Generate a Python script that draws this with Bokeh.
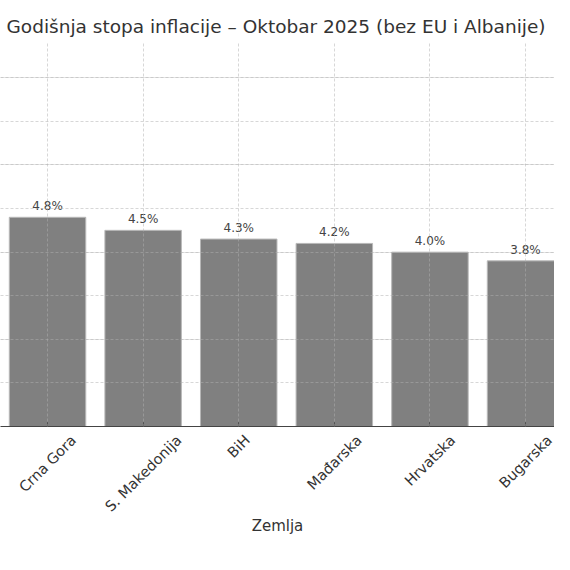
import numpy as np
from bokeh.plotting import figure
from bokeh.models import Range1d, FixedTicker, ColumnDataSource, Grid
from bokeh.core.properties import value
from bokeh.embed import file_html
from bokeh.resources import INLINE

countries = ["Crna Gora", "S. Makedonija", "BiH", "Mađarska", "Hrvatska", "Bugarska"]
inflation = [4.8, 4.5, 4.3, 4.2, 4.0, 3.8]
y_ticks = [0, 1, 2, 3, 4, 5, 6, 7, 8]
title_text = "Godišnja stopa inflacije – Oktobar 2025 (bez EU i Albanije)"
x_label = "Zemlja"

FONT = "DejaVu Sans"
TICK_FS = 14.5

# DejaVu Sans advance widths (em) used to centre the rotated tick labels
EM = {"C": .698, "r": .411, "n": .634, "a": .613, " ": .318, "G": .775, "o": .612,
      "S": .635, ".": .318, "M": .863, "k": .579, "e": .615, "d": .635, "i": .278,
      "j": .278, "B": .686, "H": .752, "đ": .635, "s": .521, "v": .592, "t": .392,
      "u": .634, "g": .635}


def text_len(s, fs):
    return sum(EM.get(ch, 0.6) for ch in s) * fs


c45 = np.cos(np.pi / 4)
xs = list(range(len(countries)))
labels = [f"{v:.1f}%" for v in inflation]
src = ColumnDataSource(dict(x=xs, v=inflation, lbl=labels))

tick_src = ColumnDataSource(dict(
    x=xs, y=[0] * len(xs), name=countries,
    xo=[text_len(c, TICK_FS) * c45 / 2 for c in countries],
))

p = figure(width=554, height=552,
           x_range=Range1d(-0.492, 5.303), y_range=Range1d(0, 8.81),
           output_backend="svg", toolbar_location=None, y_axis_location=None,
           min_border_left=0, min_border_right=0,
           min_border_top=42, min_border_bottom=126)
p.outline_line_color = None
p.background_fill_color = "white"

p.vbar(x="x", top="v", width=0.8, source=src,
       fill_color="#808080", line_color="#b8b8b8", line_width=1)

p.text(x="x", y="v", text="lbl", source=src, text_align="center",
       text_baseline="bottom", y_offset=-4, text_font_size="12px",
       text_color="#444444", text_font=value(FONT))

# grids (drawn above the bars, like matplotlib)
p.xgrid.ticker = FixedTicker(ticks=xs)
p.xgrid.grid_line_color = "#b0b0b0"
p.xgrid.grid_line_alpha = 0.5
p.xgrid.grid_line_dash = "3 2"
p.xgrid.level = "guide"
yg = Grid(dimension=1, ticker=FixedTicker(ticks=y_ticks),
          grid_line_color="#b0b0b0", grid_line_alpha=0.5,
          grid_line_dash="3 2", level="guide")
p.add_layout(yg)

ax = p.xaxis[0]
ax.ticker = FixedTicker(ticks=xs)
ax.major_label_overrides = {i: "" for i in xs}
ax.major_label_text_font_size = "1px"
ax.major_tick_in = 4
ax.major_tick_out = 0
ax.major_tick_line_color = "#333333"
ax.minor_tick_line_color = None
ax.axis_line_color = "#444444"
ax.axis_label = x_label
ax.axis_label_text_font = FONT
ax.axis_label_text_font_size = "15px"
ax.axis_label_text_font_style = "normal"
ax.axis_label_text_color = "#333333"
ax.axis_label_standoff = 90

# rotated tick labels, centred on their ticks (matplotlib rotation=45, ha='center')
tl = p.text(x="x", y="y", text="name", source=tick_src, angle=np.pi / 4,
            text_align="right", text_baseline="middle",
            x_offset="xo", y_offset=6 + TICK_FS * c45 / 2,
            text_font_size=f"{TICK_FS}px", text_color="#333333",
            text_font=value(FONT))
tl.level = "annotation"

p.title.text = title_text
p.title.text_font = FONT
p.title.text_font_size = "18.5px"
p.title.text_font_style = "normal"
p.title.text_color = "#333333"
p.title.align = "left"
p.title.offset = 6
p.title.standoff = 11

open("out.html", "w").write(file_html(p, INLINE))
